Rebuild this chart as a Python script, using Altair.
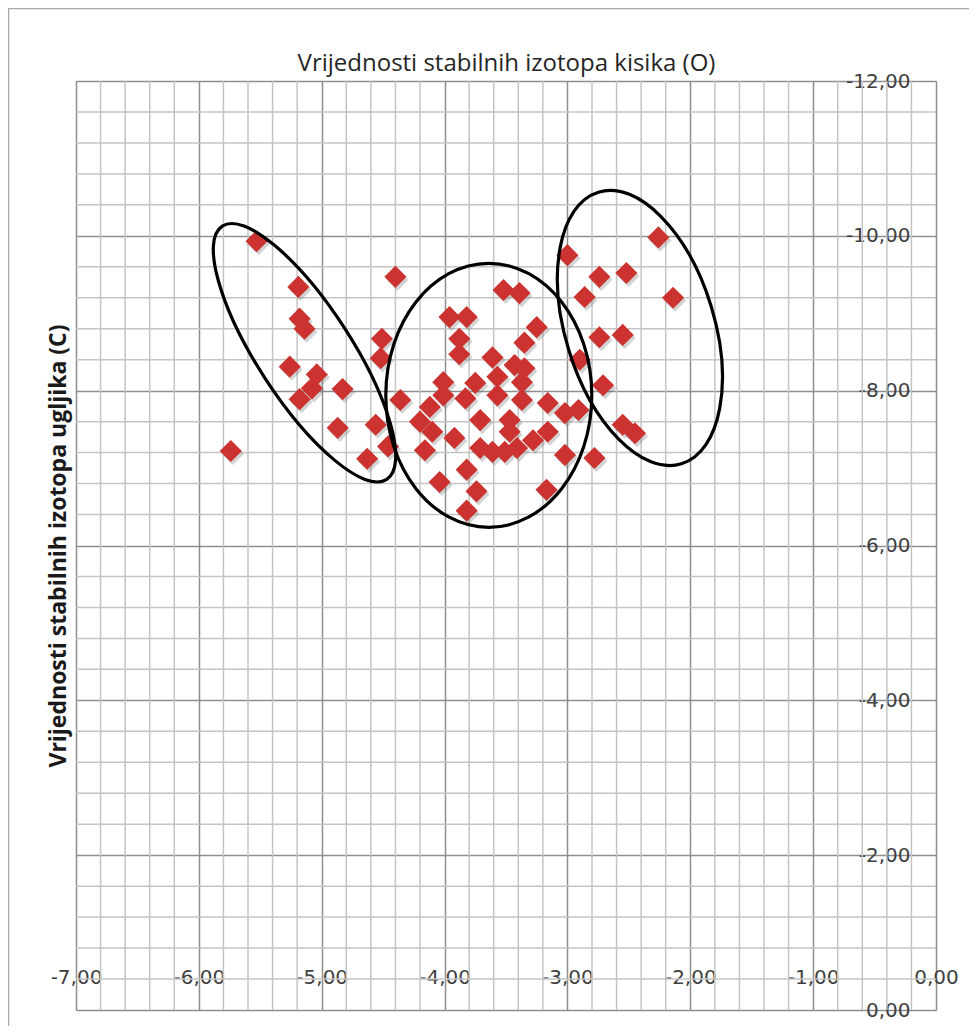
import altair as alt
import pandas as pd

# ---- data ----
oxygen = [-5.53, -5.19, -5.18, -5.14, -5.26, -5.04, -5.08, -5.18, -4.83, -4.87,
          -5.74, -4.56, -4.46, -4.63, -4.51, -4.52, -4.40,
          -4.36, -3.96, -3.82, -3.88, -3.88, -3.61, -3.52, -3.39, -3.25, -3.35,
          -3.43, -3.35, -3.57, -3.37, -4.01, -3.75, -4.12, -4.01, -3.83, -4.20,
          -4.10, -3.92, -3.71, -4.16, -3.71, -3.82, -4.04, -3.74, -3.82, -3.57,
          -3.37, -3.16, -3.02, -2.91, -3.47, -3.47, -3.16, -3.28, -3.61, -3.51,
          -3.41, -3.02, -3.17,
          -3.00, -2.74, -2.86, -2.74, -2.90, -2.71, -2.78, -2.26, -2.52, -2.14,
          -2.55, -2.55, -2.45]
carbon = [-9.93, -9.34, -8.93, -8.80, -8.31, -8.21, -8.03, -7.89, -8.02, -7.52,
          -7.22, -7.56, -7.28, -7.12, -8.67, -8.42, -9.47,
          -7.88, -8.95, -8.95, -8.67, -8.47, -8.43, -9.30, -9.26, -8.82, -8.62,
          -8.33, -8.29, -8.18, -8.11, -8.11, -8.10, -7.79, -7.94, -7.90, -7.60,
          -7.47, -7.39, -7.62, -7.23, -7.26, -6.98, -6.82, -6.70, -6.45, -7.94,
          -7.88, -7.84, -7.71, -7.75, -7.62, -7.47, -7.47, -7.36, -7.21, -7.21,
          -7.26, -7.17, -6.72,
          -9.75, -9.47, -9.21, -8.69, -8.40, -8.07, -7.13, -9.98, -9.52, -9.20,
          -8.72, -7.56, -7.45]

x_ticks = [-7, -6, -5, -4, -3, -2, -1, 0]
y_ticks = [-12, -10, -8, -6, -4, -2, 0]
x_minor = [round(-7 + 0.2 * i, 1) for i in range(36) if i % 5 != 0]
y_minor = [round(-12 + 0.4 * i, 1) for i in range(31) if i % 5 != 0]

# group ellipses: centres in data units
ell_x = [-5.14, -3.64, -2.41]
ell_y = [-8.49, -7.94, -8.81]

title_x = "Vrijednosti stabilnih izotopa kisika (O)"
title_y = "Vrijednosti stabilnih izotopa ugljika (C)"

# ---- styles ----
ell_rx_px = [151, 103, 142]
ell_ry_px = [47, 132, 74.5]
ell_angle = [57, 0, 73]

label_expr = "(datum.value < 0 ? '-' : '') + replace(format(abs(datum.value), '.2f'), '.', ',')"
xs = alt.Scale(domain=[-7, 0], nice=False, zero=False)
ys = alt.Scale(domain=[-12, 0], nice=False, zero=False, reverse=True)
LBL_FONT = "DejaVu Sans"
MINOR = "#c4c4c4"
MAJOR = "#8e8e8e"

pts = pd.DataFrame({"o": oxygen, "c": carbon})

vgrid = alt.Chart(pd.DataFrame({"x": x_minor})).mark_rule(
    color=MINOR, strokeWidth=1.5
).encode(x=alt.X("x:Q", scale=xs, axis=alt.Axis(
    orient="top", title=title_x, labels=False, ticks=False, domain=False,
    grid=False, titleFont="Open Sans", titleFontSize=24, titleFontWeight="normal",
    titleColor="#262626", titlePadding=6)))

hgrid = alt.Chart(pd.DataFrame({"y": y_minor})).mark_rule(
    color=MINOR, strokeWidth=1.5
).encode(
    y=alt.Y("y:Q", scale=ys, axis=alt.Axis(
        orient="left", title=title_y, labels=False, ticks=False, domain=False,
        grid=False, titleFont="Open Sans", titleFontSize=23, titleFontWeight="bold",
        titleColor="#1a1a1a", titlePadding=6))
)

shadow = alt.Chart(pts).mark_point(
    shape="diamond", filled=True, size=490, color="#6e6e6e", opacity=0.3
).encode(
    x=alt.X("o:Q", scale=xs, axis=None),
    y=alt.Y("c:Q", scale=ys, axis=None),
    xOffset=alt.value(2), yOffset=alt.value(3),
)

points = alt.Chart(pts).mark_point(
    shape="diamond", filled=True, size=490, color="#cb3230", opacity=1
).encode(
    x=alt.X("o:Q", scale=xs, axis=alt.Axis(
        orient="bottom", values=x_ticks, grid=True, gridColor=MAJOR, gridWidth=1.5,
        domain=False, ticks=False, tickSize=0, labelExpr=label_expr,
        labelFlush=False, labelOverlap=False, labelBaseline="middle",
        labelAlign="center", labelPadding=0, offset=-33, title=None,
        labelFont=LBL_FONT, labelFontSize=20, labelColor="#404040")),
    y=alt.Y("c:Q", scale=ys, axis=alt.Axis(
        orient="right", values=y_ticks, grid=True, gridColor=MAJOR, gridWidth=1.5,
        domain=False, ticks=False, tickSize=0, labelExpr=label_expr,
        labelFlush=False, labelOverlap=False, labelAlign="right",
        labelBaseline="middle", labelPadding=2, offset=-28, title=None,
        labelFont=LBL_FONT, labelFontSize=20, labelColor="#404040")),
)

k = 0.5523
layers = [vgrid, hgrid, shadow, points]
for i in range(3):
    r = ell_ry_px[i] / ell_rx_px[i]
    path = (f"M 1 0 C 1 {k*r:.4f} {k} {r:.4f} 0 {r:.4f} "
            f"C {-k} {r:.4f} -1 {k*r:.4f} -1 0 "
            f"C -1 {-k*r:.4f} {-k} {-r:.4f} 0 {-r:.4f} "
            f"C {k} {-r:.4f} 1 {-k*r:.4f} 1 0 Z")
    ell = alt.Chart(pd.DataFrame({"x": [ell_x[i]], "y": [ell_y[i]]})).mark_point(
        shape=path, filled=False, stroke="black", strokeWidth=3.2, opacity=1,
        size=(2 * ell_rx_px[i]) ** 2, angle=ell_angle[i]
    ).encode(
        x=alt.X("x:Q", scale=xs, axis=None),
        y=alt.Y("y:Q", scale=ys, axis=None),
    )
    layers.append(ell)

frame_df = pd.DataFrame({"a": [0]})
frame_top = alt.Chart(frame_df).mark_rule(color="#a8a8a8", strokeWidth=1.5).encode(
    x=alt.value(-68), x2=alt.value(893), y=alt.value(-72.5))
frame_left = alt.Chart(frame_df).mark_rule(color="#a8a8a8", strokeWidth=1.5).encode(
    x=alt.value(-67.5), y=alt.value(-73), y2=alt.value(945))
layers += [frame_top, frame_left]

chart = alt.layer(*layers).resolve_axis(x="independent", y="independent").properties(
    width=860, height=929,
    autosize=alt.AutoSizeParams(type="none"),
    padding={"left": 68, "top": 73, "right": 33, "bottom": 16},
).configure_view(stroke=None).configure(background="white")

chart.save("out.html", embed_options={"renderer": "svg", "actions": False})
